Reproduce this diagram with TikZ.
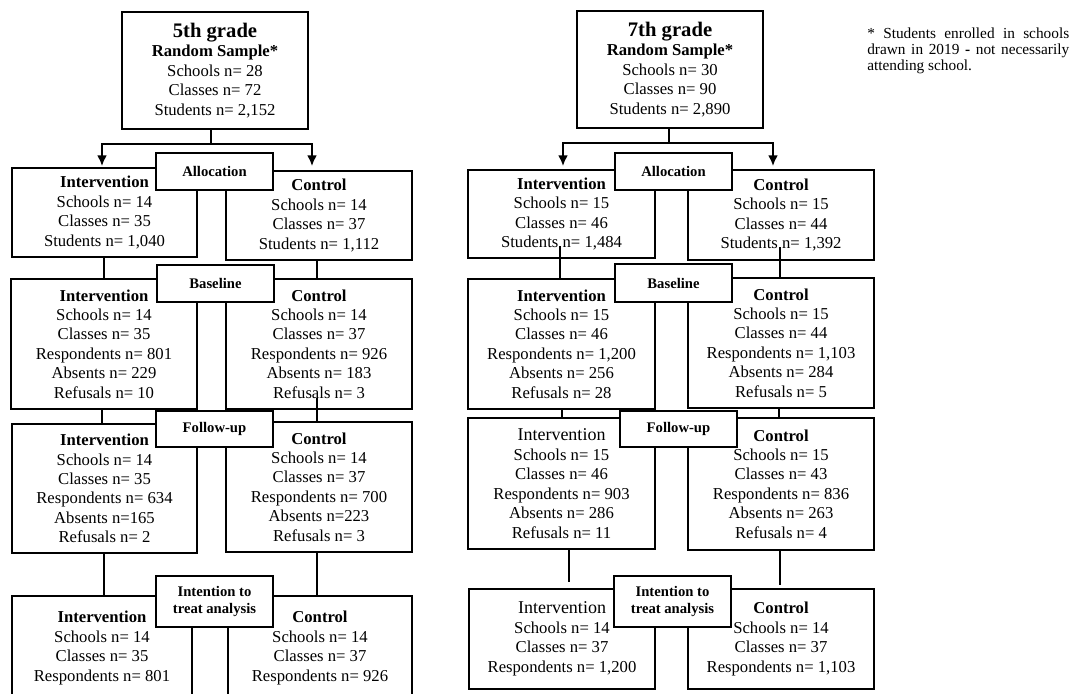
\documentclass[tikz,border=0pt]{standalone}
\usepackage{fontspec}
\setmainfont{Liberation Serif}
\usetikzlibrary{calc,arrows.meta}
\newcommand{\tbig}[1]{{\fontsize{15.5}{14.6}\selectfont\bfseries #1}}
\newcommand{\ireg}[1]{{\fontsize{13.5}{14.6}\selectfont #1}}
\begin{document}
\begin{tikzpicture}[x=0.75pt,y=-0.75pt,
  box/.style={draw, line width=1.5pt, fill=white, align=center, inner sep=0pt,
    font=\fontsize{12.5}{14.6}\selectfont},
  stage/.style={draw, line width=1.5pt, fill=white, align=center, inner sep=0pt,
    font=\fontsize{11}{12.5}\selectfont\bfseries},
  sz/.style 2 args={minimum width=#1*0.75pt, minimum height=#2*0.75pt},
  conn/.style={line width=1.5pt},
  arr/.style={line width=1.5pt, -{Latex[length=8pt,width=7.5pt]}},
  note/.style={inner sep=0pt, anchor=north west, align=left,
    font=\fontsize{11.5}{12}\selectfont}
]
\useasboundingbox (0,0) rectangle (1070,693);
\begin{scope}
\clip (0,0) rectangle (1070,693);

% ---------------- 5th grade ----------------
\node[box, sz={186}{117}] (g5) at (215,70.5)
  {\tbig{5th grade}\\\textbf{Random Sample*}\\Schools n= 28\\Classes n= 72\\Students n= 2,152};
\node[box, sz={185}{89}] (a5i) at (104.5,212.5)
  {\textbf{Intervention}\\Schools n= 14\\Classes n= 35\\Students n= 1,040};
\node[box, sz={186}{89}] (a5c) at (319,215.5)
  {\textbf{Control}\\Schools n= 14\\Classes n= 37\\Students n= 1,112};
\node[box, sz={186}{130}] (b5i) at (104,344)
  {\textbf{Intervention}\\Schools n= 14\\Classes n= 35\\Respondents n= 801\\Absents n= 229\\Refusals n= 10};
\node[box, sz={186}{130}] (b5c) at (319,344)
  {\textbf{Control}\\Schools n= 14\\Classes n= 37\\Respondents n= 926\\Absents n= 183\\Refusals n= 3};
\node[box, sz={185}{129}] (f5i) at (104.5,488.5)
  {\textbf{Intervention}\\Schools n= 14\\Classes n= 35\\Respondents n= 634\\Absents n=165\\Refusals n= 2};
\node[box, sz={186}{130}] (f5c) at (319,487)
  {\textbf{Control}\\Schools n= 14\\Classes n= 37\\Respondents n= 700\\Absents n=223\\Refusals n= 3};
\node[box, sz={180}{104}] (t5i) at (102,648)
  {\textbf{Intervention}\\Schools n= 14\\Classes n= 35\\Respondents n= 801};
\node[box, sz={184}{104}] (t5c) at (320,648)
  {\textbf{Control}\\Schools n= 14\\Classes n= 37\\Respondents n= 926};

\node[stage, sz={117}{37}] (l5a) at (214.5,171.5) {Allocation};
\node[stage, sz={117}{37}] (l5b) at (215.5,283.5) {Baseline};
\node[stage, sz={117}{36}] (l5f) at (214.5,429) {Follow-up};
\node[stage, sz={117}{51}] (l5t) at (214.5,601.5) {Intention to\\treat analysis};

\draw[conn] ($(g5.south)+(-4,0)$) -- ++(0,14) coordinate (j5);
\draw[arr] (j5) -| ($(a5i.north)+(-2.5,-1)$);
\draw[arr] (j5) -| ($(a5c.north)+(-7,-4)$);
\draw[conn] ($(a5i.south)+(-0.5,0)$) -- (b5i.north);
\draw[conn] ($(a5c.south)+(-2,0)$) -- ($(b5c.north)+(-2,0)$);
\draw[conn] ($(b5i.south)+(-2,0)$) -- ($(f5i.north)+(-2.5,0)$);
\draw[conn] ($(b5c.south)+(-2,-12)$) -- ($(f5c.north)+(-2,0)$);
\draw[conn] ($(f5i.south)+(-0.5,0)$) -- ($(t5i.north)+(2,0)$);
\draw[conn] ($(f5c.south)+(-2,0)$) -- ($(t5c.north)+(-3,0)$);

% ---------------- 7th grade ----------------
\node[box, sz={186}{117}] (g7) at (670,69.5)
  {\tbig{7th grade}\\\textbf{Random Sample*}\\Schools n= 30\\Classes n= 90\\Students n= 2,890};
\node[box, sz={187}{88}] (a7i) at (561.5,214)
  {\textbf{Intervention}\\Schools n= 15\\Classes n= 46\\Students n= 1,484};
\node[box, sz={186}{90}] (a7c) at (781,215)
  {\textbf{Control}\\Schools n= 15\\Classes n= 44\\Students n= 1,392};
\node[box, sz={187}{130}] (b7i) at (561.5,344)
  {\textbf{Intervention}\\Schools n= 15\\Classes n= 46\\Respondents n= 1,200\\Absents n= 256\\Refusals n= 28};
\node[box, sz={186}{130}] (b7c) at (781,343)
  {\textbf{Control}\\Schools n= 15\\Classes n= 44\\Respondents n= 1,103\\Absents n= 284\\Refusals n= 5};
\node[box, sz={187}{131}] (f7i) at (561.5,483.5)
  {\ireg{Intervention}\\Schools n= 15\\Classes n= 46\\Respondents n= 903\\Absents n= 286\\Refusals n= 11};
\node[box, sz={186}{132}] (f7c) at (781,484)
  {\textbf{Control}\\Schools n= 15\\Classes n= 43\\Respondents n= 836\\Absents n= 263\\Refusals n= 4};
\node[box, sz={186}{100}] (t7i) at (562,639)
  {\ireg{Intervention}\\Schools n= 14\\Classes n= 37\\Respondents n= 1,200};
\node[box, sz={186}{100}] (t7c) at (781,639)
  {\textbf{Control}\\Schools n= 14\\Classes n= 37\\Respondents n= 1,103};

\node[stage, sz={117}{37}] (l7a) at (673.5,171.5) {Allocation};
\node[stage, sz={117}{38}] (l7b) at (673.5,283) {Baseline};
\node[stage, sz={117}{36}] (l7f) at (678.5,429) {Follow-up};
\node[stage, sz={117}{51}] (l7t) at (672.5,601.5) {Intention to\\treat analysis};

\draw[conn] ($(g7.south)+(-1,0)$) -- ++(0,14) coordinate (j7);
\draw[arr] (j7) -| ($(a7i.north)+(1.5,-3)$);
\draw[arr] (j7) -| ($(a7c.north)+(-8,-3)$);
\draw[conn] ($(a7i.south)+(-1.5,-13)$) -- ($(b7i.north)+(-1.5,0)$);
\draw[conn] ($(a7c.south)+(-1,-14)$) -- ($(b7c.north)+(-1,0)$);
\draw[conn] ($(b7i.south)+(0.5,0)$) -- ($(f7i.north)+(0.5,0)$);
\draw[conn] ($(b7c.south)+(-2,0)$) -- ($(f7c.north)+(-2,0)$);
\draw[conn] ($(f7i.south)+(7.5,0)$) -- ($(t7i.north)+(7,-6)$);
\draw[conn] ($(f7c.south)+(-1,0)$) -- ($(t7c.north)+(-1,-3)$);

% ---------------- footnote ----------------
\node[note] (fn) at (867,28)
  {\makebox[151.5pt][s]{* Students enrolled in schools}\\
   \makebox[151.5pt][s]{drawn in 2019 \textbf{-} not necessarily}\\
   attending school.};
\end{scope}
\end{tikzpicture}
\end{document}
